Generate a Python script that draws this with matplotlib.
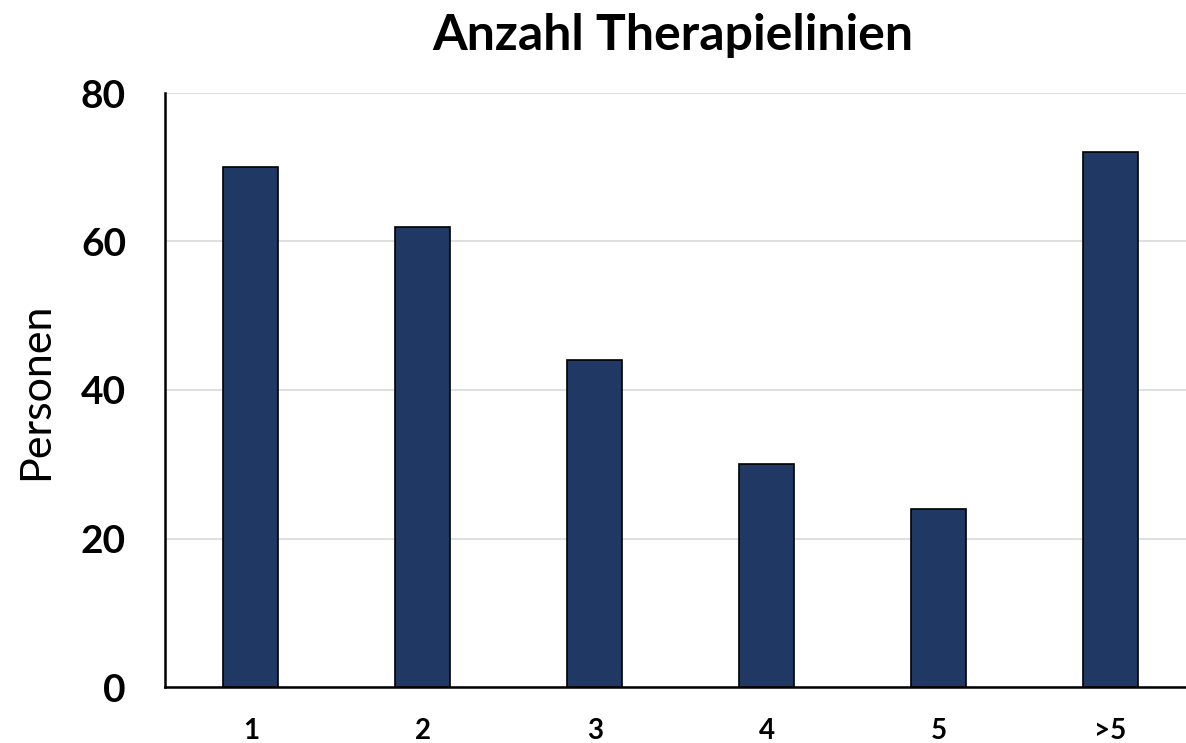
import matplotlib

matplotlib.use("Agg")
import matplotlib.pyplot as plt

categories = ["1", "2", "3", "4", "5", ">5"]
persons = [70, 62, 44, 30, 24, 72]
y_ticks = [0, 20, 40, 60, 80]

BAR_COLOR = "#203864"
FONT = ["Lato", "DejaVu Sans"]

plt.rcParams["font.family"] = FONT

fig = plt.figure(figsize=(11.86, 7.43), dpi=100)
ax = fig.add_axes([165 / 1186, 1 - 687 / 743, 1 - 165 / 1186, (687 - 93) / 743])

x = range(len(categories))
ax.bar(x, persons, width=0.32, color=BAR_COLOR, edgecolor="black", linewidth=1.2, zorder=3)

ax.set_xlim(-0.5, 5.44)
ax.set_ylim(0, 80)
ax.set_yticks(y_ticks)
ax.set_yticklabels([str(t) for t in y_ticks], fontsize=28, fontweight="bold")
ax.set_xticks(list(x))
ax.set_xticklabels(categories, fontsize=20, fontweight="bold")
ax.tick_params(axis="both", length=0)
ax.tick_params(axis="y", pad=28)
ax.tick_params(axis="x", pad=22)

ax.yaxis.grid(True, color="#d9d9d9", linewidth=1.2, zorder=0)
ax.set_axisbelow(True)
for side in ["top", "right"]:
    ax.spines[side].set_visible(False)
ax.spines["left"].set_linewidth(1.8)
ax.spines["bottom"].set_linewidth(1.8)

# y label sits far left, outside the tick labels
fig.text(36 / 1186, 1 - 391 / 743, "Personen", fontsize=31, rotation=90,
         ha="center", va="center")
fig.text(673 / 1186, 1 - 35 / 743, "Anzahl Therapielinien", fontsize=36,
         fontweight="bold", ha="center", va="center")

fig.savefig("out.png", dpi=100)
